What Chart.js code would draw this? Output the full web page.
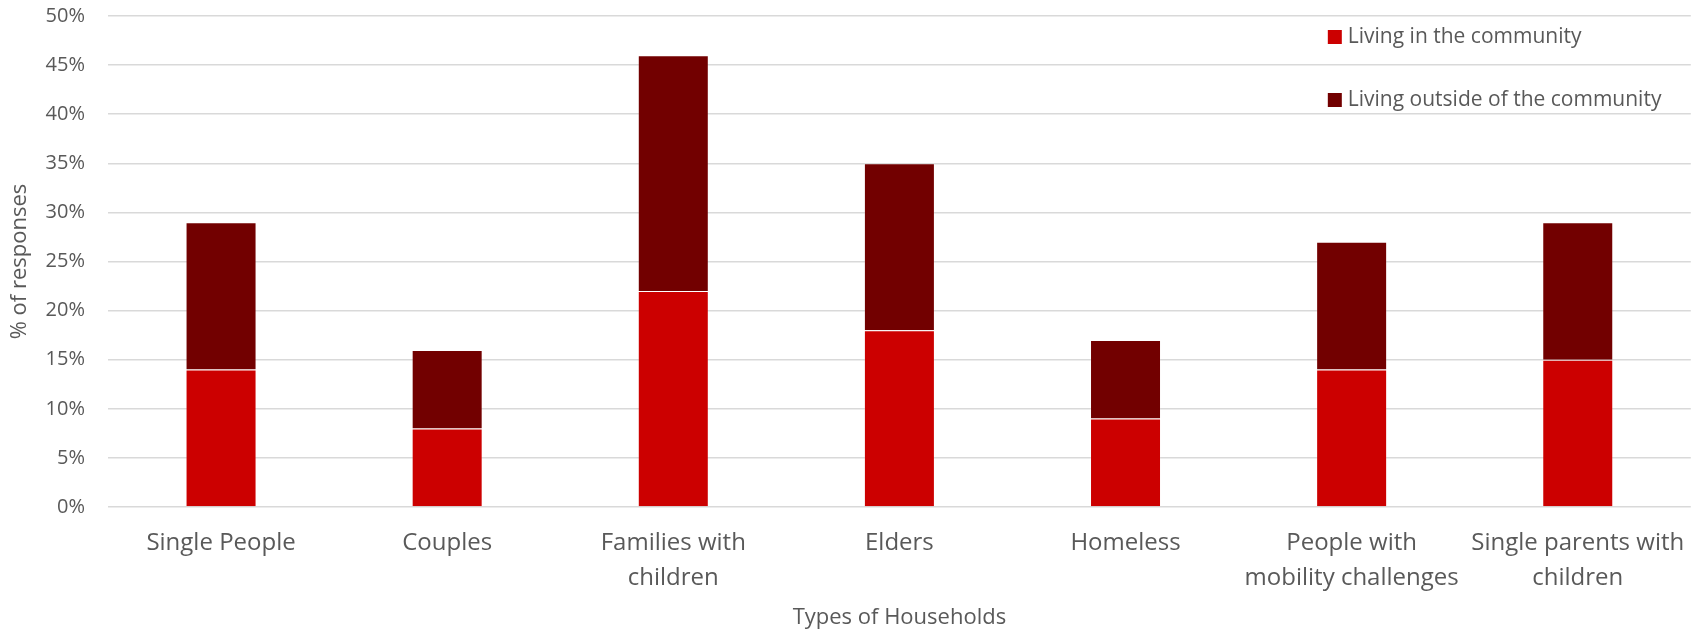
<!DOCTYPE html>
<html>
<head>
<meta charset="utf-8">
<script src="https://cdn.jsdelivr.net/npm/chart.js@4"></script>
<style>
  html, body { margin: 0; padding: 0; background: #fff; }
  #wrap { width: 1704px; height: 633px; }
</style>
</head>
<body>
<div id="wrap"><canvas id="households"></canvas></div>
<script>
const categories = [
  "Single People",
  "Couples",
  ["Families with", "children"],
  "Elders",
  "Homeless",
  ["People with", "mobility challenges"],
  ["Single parents with", "children"]
];
const livingIn = [14, 8, 22, 18, 9, 14, 15];
const livingOutside = [15, 8, 24, 17, 8, 13, 14];
const yTicks = [0, 5, 10, 15, 20, 25, 30, 35, 40, 45, 50];

const textColor = "#595959";
const fontFamily = "'Open Sans', 'Noto Sans', sans-serif";

// legend sits inside the plot, top right, like the Excel original
const insideLegend = {
  id: "insideLegend",
  afterDraw(c) {
    const ctx = c.ctx;
    const x = c.chartArea.right - 363;
    const rows = [37, 100];
    ctx.save();
    ctx.font = "21px " + fontFamily;
    ctx.textBaseline = "middle";
    c.data.datasets.forEach((ds, i) => {
      ctx.fillStyle = ds.backgroundColor;
      ctx.fillRect(x, rows[i] - 7, 14, 14);
      ctx.fillStyle = textColor;
      ctx.fillText(ds.label, x + 20, rows[i]);
    });
    ctx.restore();
  }
};

new Chart(document.getElementById("households"), {
  type: "bar",
  data: {
    labels: categories,
    datasets: [
      {
        label: "Living in the community",
        data: livingIn,
        backgroundColor: "#CC0000",
        borderColor: "rgba(255,255,255,0.15)",
        borderWidth: 1
      },
      {
        label: "Living outside of the community",
        data: livingOutside,
        backgroundColor: "#720000",
        borderColor: "rgba(255,255,255,0.15)",
        borderWidth: 1
      }
    ]
  },
  options: {
    responsive: true,
    maintainAspectRatio: false,
    animation: false,
    layout: { padding: { top: 0, right: 11, left: 0, bottom: 0 } },
    datasets: { bar: { categoryPercentage: 1, barPercentage: 0.314 } },
    plugins: {
      legend: { display: false },
      tooltip: { enabled: false }
    },
    scales: {
      x: {
        stacked: true,
        grid: { display: false, drawTicks: false },
        border: { display: false },
        ticks: {
          color: textColor,
          font: { family: fontFamily, size: 24, lineHeight: 1.45 },
          padding: 19,
          maxRotation: 0,
          autoSkip: false
        },
        title: {
          display: true,
          text: "Types of Households",
          color: textColor,
          font: { family: fontFamily, size: 22 },
          padding: { top: 4, bottom: 2 }
        },
        afterFit: s => { s.height = 126; }
      },
      y: {
        stacked: true,
        min: 0,
        max: 50,
        afterBuildTicks: s => { s.ticks = yTicks.map(v => ({ value: v })); },
        grid: { color: "#D9D9D9", lineWidth: 1.5, drawTicks: false },
        border: { display: false },
        ticks: {
          color: textColor,
          font: { family: fontFamily, size: 20 },
          padding: 23,
          callback: v => v + "%"
        },
        title: {
          display: true,
          text: "% of responses",
          color: textColor,
          font: { family: fontFamily, size: 22 },
          padding: { top: 7, bottom: 0 }
        },
        afterFit: s => {
          s.width = 108;
          s.paddingTop = 16;
          s.paddingBottom = 0;
        }
      }
    }
  },
  plugins: [insideLegend]
});
</script>
</body>
</html>
